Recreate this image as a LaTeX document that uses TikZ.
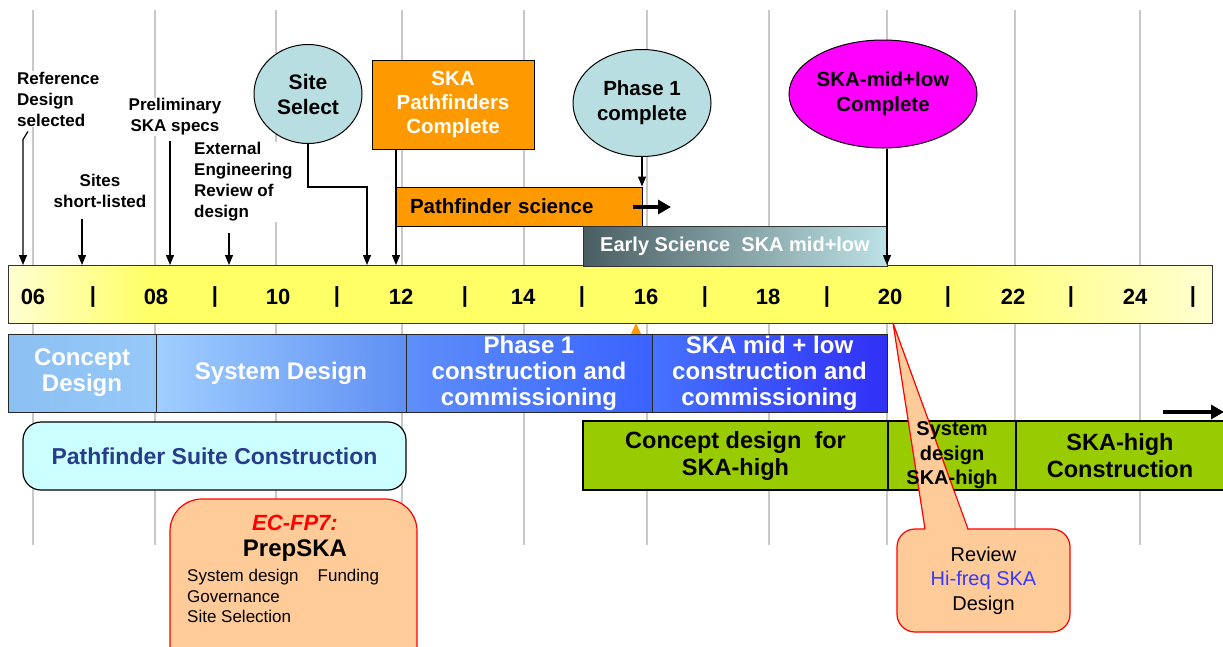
\documentclass[tikz,border=0pt]{standalone}
\usepackage{fontspec}
\setmainfont{Liberation Sans}
\usetikzlibrary{shapes.geometric,arrows.meta,calc}
\definecolor{gridc}{HTML}{C8C8C8}
\definecolor{yl}{HTML}{FFFFD2}
\definecolor{yy}{HTML}{FFFF66}
\definecolor{orng}{HTML}{FF9900}
\definecolor{cyl}{HTML}{B8DEE2}
\definecolor{mag}{HTML}{FF00FF}
\definecolor{esl}{HTML}{4A5E62}
\definecolor{esr}{HTML}{BCE2E6}
\definecolor{bca}{HTML}{8CC0F2}
\definecolor{bcb}{HTML}{96C9FA}
\definecolor{bsa}{HTML}{A0CFFF}
\definecolor{bsb}{HTML}{5F8FF4}
\definecolor{bpa}{HTML}{5E8FF9}
\definecolor{bpb}{HTML}{3A62FF}
\definecolor{bma}{HTML}{4673FF}
\definecolor{bmb}{HTML}{3030F5}
\definecolor{psc}{HTML}{CCFFFF}
\definecolor{navy}{HTML}{283C8C}
\definecolor{grn}{HTML}{99CC00}
\definecolor{peach}{HTML}{FFCC99}
\definecolor{hiblue}{HTML}{3838FF}
\begin{document}
\begin{tikzpicture}[x=1pt,y=-1pt,
  gridl/.style={draw=gridc, line width=1.3pt},
  tlab/.style={font=\bfseries\fontsize{17}{21}\selectfont, fill=white, inner sep=1pt},
  num/.style={font=\bfseries\fontsize{22}{26}\selectfont, inner sep=0pt},
  arr/.style={line width=1.2pt, -{Triangle[width=8pt,length=10pt]}},
  bigarr/.style={line width=4pt, -{Triangle[width=14pt,length=13pt]}},
  ms/.style={draw=black, line width=1pt, inner sep=0pt, align=center},
  ell/.style={ellipse, draw=black, line width=1pt, inner sep=0pt, align=center},
  bseg/.style={draw=black!85, line width=1pt, inner sep=0pt, align=center, text=white,
    font=\bfseries\fontsize{24}{26}\selectfont, minimum height=78pt},
  gseg/.style={draw=black, line width=1.2pt, fill=grn, minimum height=69pt, inner sep=0pt},
  gtxt/.style={font=\bfseries\fontsize{23.5}{27}\selectfont, align=center, inner sep=0pt},
]
\clip (0,0) rectangle (1223,646);
\fill[white] (0,0) rectangle (1223,646);

% grid
\foreach \x in {33,155,276,402,524,647,769,887,1015,1140}
  \draw[gridl] (\x,10) -- (\x,545);

% timeline bar
\shade[left color=yl, right color=yy] (8,265) rectangle (150,323);
\fill[yy] (149,265) rectangle (931,323);
\shade[left color=yy, right color=yl] (930,265) rectangle (1212,323);
\draw[black!80, line width=1pt] (8,265) rectangle (1212,323);
\foreach \x/\t in {33/06,156/08,278/10,401/12,523/14,646/16,768/18,890/20,1013/22,1135/24}
  \node[num] at (\x,297) {\t};
\foreach \x in {93,215,337,465,582,705,827,948,1071,1193}
  \node[num] at (\x,297) {|};

% timeline coordinates
\coordinate (ta) at (23,265);
\coordinate (tb) at (82,265);
\coordinate (tc) at (170,265);
\coordinate (td) at (229,265);
\coordinate (te) at (367,265);
\coordinate (tf) at (396,265);
\coordinate (tg) at (887,265);

% top labels
\node[tlab, anchor=west, align=left] (refd) at (16,99) {Reference\\Design\\selected};
\node[tlab, align=center] (sites) at (100,191) {Sites\\short-listed};
\node[tlab, align=center] (prel) at (175,117) {Preliminary\\SKA specs};
\node[tlab, anchor=west, align=left] (ext) at (193,182) {External\\Engineering\\Review of\\design};

\draw[arr] ($(refd.south west)+(12,4)$) -- ++(-5,8) -- (ta);
\draw[arr] ($(sites.south -| tb)+(0,10)$) -- (tb);
\draw[arr] ($(prel.south -| tc)+(0,4)$) -- (tc);
\draw[arr] ($(ext.south -| td)+(0,10)$) -- (td);

% site select
\node[ell, fill=cyl, minimum width=108pt, minimum height=99pt,
  font=\bfseries\fontsize{21}{25}\selectfont] (site) at (308,94) {Site\\Select};
\coordinate (sk) at (367,187);
\draw[arr] (site.south) |- (sk) -- (te);

% pathfinders complete
\node[ms, fill=orng, minimum width=162pt, minimum height=89pt, text=white,
  font=\bfseries\fontsize{20.5}{24}\selectfont] (pfc) at (453,104.5) {SKA\\Pathfinders\\Complete};
\draw[arr] (pfc.south -| tf) -- (tf);

% pathfinder science
\node[ms, fill=orng, minimum width=246pt, minimum height=39pt, inner xsep=14pt,
  text width=218pt, align=left, font=\bfseries\fontsize{20.5}{24}\selectfont] (psci) at (519,206.5) {Pathfinder science};

% phase 1 complete
\node[ell, fill=cyl, minimum width=138pt, minimum height=107pt,
  font=\bfseries\fontsize{20.5}{25}\selectfont] (ph1) at (642,103) {Phase 1\\complete};
\draw[arr] (ph1.south) -- (ph1.south |- psci.north);
\coordinate (ba1) at (633,207);
\coordinate (ba2) at (671,207);
\draw[bigarr] (ba1) -- (ba2);

% early science
\node[draw=black!80, line width=1pt, left color=esl, right color=esr, minimum width=304pt,
  minimum height=40pt, inner sep=0pt, text=white,
  font=\bfseries\fontsize{20}{24}\selectfont] (es) at (735,246) {Early Science\ \ SKA mid+low};

% SKA mid+low complete
\node[ell, fill=mag, minimum width=188pt, minimum height=108pt,
  font=\bfseries\fontsize{20.5}{25}\selectfont] (mag) at (883,94) {SKA-mid+low\\Complete};
\draw[arr] (mag.south -| tg) -- (tg);

% small orange marker
\fill[orng] (631,334) -- (636,323) -- (641,334) -- cycle;

% blue bar
\node[bseg, left color=bca, right color=bcb, minimum width=148pt] (cd) at (82,373) {Concept\\Design};
\node[bseg, left color=bsa, right color=bsb, minimum width=250pt] (sd) at (281,373) {System Design};
\node[bseg, left color=bpa, right color=bpb, minimum width=246pt] (p1) at (529,373) {Phase 1\\construction and\\commissioning};
\node[bseg, left color=bma, right color=bmb, minimum width=235pt] (sm) at (769.5,373) {SKA mid + low\\construction and\\commissioning};

% pathfinder suite
\node[draw=black, line width=1.2pt, fill=psc, rounded corners=18pt, minimum width=383pt,
  minimum height=68pt, text=navy, font=\bfseries\fontsize{23}{27}\selectfont] (pss) at (214.5,456) {Pathfinder Suite Construction};

% green bar
\node[gseg, minimum width=305pt] (g1) at (735.5,455.5) {};
\node[gseg, minimum width=128pt] (g2) at (952,455.5) {};
\node[gseg, minimum width=208pt] (g3) at (1120,455.5) {};
\coordinate (ra1) at (1163,412);
\coordinate (ra2) at (1224,412);
\draw[bigarr] (ra1) -- (ra2);

% review callout
\node[draw=red, line width=1.2pt, fill=peach, rounded corners=18pt, minimum width=173pt,
  minimum height=103pt, align=center, font=\fontsize{20}{24.5}\selectfont] (rev) at (983.5,580.5)
  {Review\\{\color{hiblue}Hi-freq SKA}\\Design};
\coordinate (apex) at (893,323);
\coordinate (pl) at (925,529);
\coordinate (pr) at (968,529);
\fill[peach] (apex) -- ($(pl)+(0.3,2)$) -- ($(pr)+(-0.3,2)$) -- cycle;
\draw[red, line width=1.2pt, line join=round] (pl) -- (apex) -- (pr);

% green texts
\node[gtxt] (g1t) at (g1) {Concept design\ \ for\\SKA-high};
\node[gtxt, font=\bfseries\fontsize{20}{24.5}\selectfont] (g2t) at (g2) {System\\design\\SKA-high};
\node[gtxt] (g3t) at (g3) {SKA-high\\Construction};

% EC-FP7 PrepSKA
\node[draw=red, line width=1.2pt, fill=peach, rounded corners=32pt, minimum width=247pt,
  minimum height=180pt] (ec) at (293.5,589) {};
\node[text=red, inner sep=0pt, font=\bfseries\itshape\fontsize{22}{26}\selectfont] (ect) at (295,523) {EC-FP7:};
\node[inner sep=0pt, font=\bfseries\fontsize{24}{28}\selectfont] (prep) at (295,551) {PrepSKA};
\node[inner sep=0pt, anchor=west, align=left, font=\fontsize{17}{20.5}\selectfont] (ecl) at (187,596)
  {System design\hspace{19pt}Funding\\Governance\\Site Selection};
\end{tikzpicture}
\end{document}
